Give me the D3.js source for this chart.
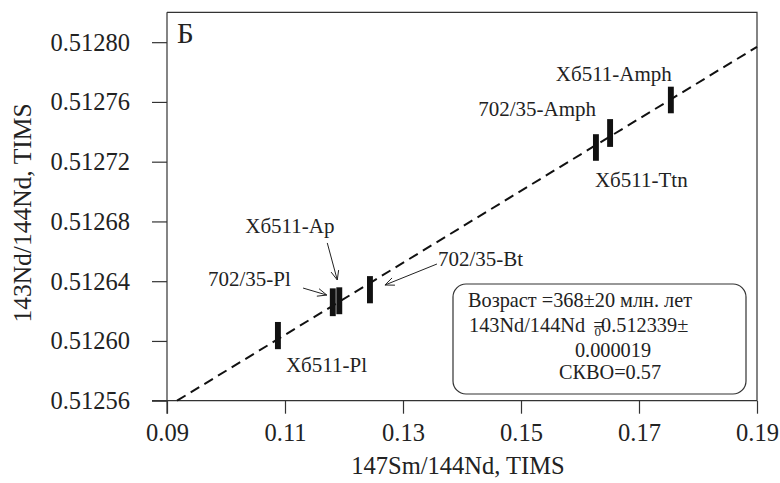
<!DOCTYPE html>
<html>
<head>
<meta charset="utf-8">
<script src="https://cdn.jsdelivr.net/npm/d3@7"></script>
<style>
  html, body { margin: 0; padding: 0; background: #fff; }
  svg { display: block; }
  text { font-family: "Liberation Serif", "Times New Roman", serif; fill: #222; }
</style>
</head>
<body>
<svg id="chart" width="780" height="483"></svg>
<script>
// ---------- data ----------
const samples = ["Xб511-Pl", "702/35-Pl", "Xб511-Ap", "702/35-Bt", "702/35-Amph", "Xб511-Ttn", "Xб511-Amph"];
const smNd    = [0.1088, 0.1181, 0.1192, 0.1244, 0.1651, 0.1627, 0.1754];
const ndNd    = [0.5126036, 0.5126259, 0.5126269, 0.5126343, 0.5127392, 0.5127295, 0.5127613];
const ndErr   = [0.0000091, 0.0000093, 0.0000090, 0.0000091, 0.0000093, 0.0000089, 0.0000089];
const smErr   = [0.0005, 0.0005, 0.0005, 0.0005, 0.0005, 0.0005, 0.0005];
const xTicks  = [0.09, 0.11, 0.13, 0.15, 0.17, 0.19];
const yTicks  = [0.51256, 0.51260, 0.51264, 0.51268, 0.51272, 0.51276, 0.51280];
const isochronIntercept = 0.512339;
const isochronSlope     = 0.002410;   // e^(λt)-1 for 368 Ma
const xDomain = [0.09, 0.19];
const yDomain = [0.51256, 0.51282];
const resultLines = ["Возраст =368±20 млн. лет", "143Nd/144Nd", "0.512339±", "0.000019", "СКВО=0.57"];

// ---------- layout ----------
const L = 167, R = 757, T = 12.3, B = 400.7;
const svg = d3.select("#chart");
const x = d3.scaleLinear().domain(xDomain).range([L, R]);
const y = d3.scaleLinear().domain(yDomain).range([B, T]);
const axisColor = "#333";

// frame top & right
svg.append("path")
  .attr("d", `M${L},${T}H${R}V${B}`)
  .attr("fill", "none").attr("stroke", axisColor).attr("stroke-width", 1.2);

// x axis
const gx = svg.append("g").attr("transform", `translate(0,${B})`)
  .call(d3.axisBottom(x).tickValues(xTicks).tickFormat(d3.format(".2f")).tickSize(13).tickPadding(10));
gx.select(".domain").attr("d", `M${L - 15},0H${R}`).attr("stroke", axisColor).attr("stroke-width", 1.2);
gx.selectAll(".tick line").attr("stroke", axisColor).attr("stroke-width", 1.2);
gx.selectAll(".tick text").attr("font-size", 24.5).attr("font-family", "Liberation Serif").attr("fill", "#222");

// y axis
const gy = svg.append("g").attr("transform", `translate(${L},0)`)
  .call(d3.axisLeft(y).tickValues(yTicks).tickFormat(d3.format(".5f")).tickSize(15).tickPadding(22));
gy.select(".domain").attr("d", `M0,${T}V${B + 13}`).attr("stroke", axisColor).attr("stroke-width", 1.2);
gy.selectAll(".tick line").attr("stroke", axisColor).attr("stroke-width", 1.2);
gy.selectAll(".tick text").attr("font-size", 24.5).attr("font-family", "Liberation Serif").attr("fill", "#222");

// axis titles
svg.append("text").attr("x", (L + R) / 2 - 4).attr("y", 474)
  .attr("text-anchor", "middle").attr("font-size", 24.5).text("147Sm/144Nd, TIMS");
svg.append("text").attr("transform", `translate(31,${213}) rotate(-90)`)
  .attr("text-anchor", "middle").attr("font-size", 25.5).text("143Nd/144Nd, TIMS");

// panel letter
svg.append("text").attr("x", 177).attr("y", 43).attr("font-size", 29).text("Б");

// isochron (dashed)
const x0 = (yDomain[0] - isochronIntercept) / isochronSlope;
const x1 = xDomain[1];
svg.append("line")
  .attr("x1", x(x0)).attr("y1", y(isochronIntercept + isochronSlope * x0))
  .attr("x2", x(x1)).attr("y2", y(isochronIntercept + isochronSlope * x1))
  .attr("stroke", "#111").attr("stroke-width", 2).attr("stroke-dasharray", "10,6");

// error boxes
const pts = samples.map((s, i) => ({ s, x: smNd[i], y: ndNd[i], ex: smErr[i], ey: ndErr[i] }));
svg.append("g").selectAll("rect").data(pts).join("rect")
  .attr("x", d => x(d.x - d.ex)).attr("width", d => x(d.x + d.ex) - x(d.x - d.ex))
  .attr("y", d => y(d.y + d.ey)).attr("height", d => y(d.y - d.ey) - y(d.y + d.ey))
  .attr("fill", "#111");

// labels (pixel offsets from the point) and arrows
const labelLayout = {
  "Xб511-Pl":    { dx: 8,     dy: 36.5,  anchor: "start" },
  "702/35-Pl":   { dx: -42,   dy: -16,   anchor: "end",   arrow: [-29.7, -14.2, -6, -7.2] },
  "Xб511-Ap":    { dx: -94,   dy: -68,   anchor: "start", arrow: [-12, -57.8, -2, -20.8] },
  "702/35-Bt":   { dx: 68,    dy: -24,   anchor: "start", arrow: [67, -25.7, 15, -4.7] },
  "702/35-Amph": { dx: -14,   dy: -17,   anchor: "end" },
  "Xб511-Ttn":   { dx: -1,    dy: 39.5,  anchor: "start" },
  "Xб511-Amph":  { dx: 1,     dy: -19,   anchor: "end" }
};
const lab = svg.append("g");
pts.forEach(d => {
  const o = labelLayout[d.s];
  const px = x(d.x), py = y(d.y);
  lab.append("text").attr("x", px + o.dx).attr("y", py + o.dy)
    .attr("text-anchor", o.anchor).attr("font-size", 21).text(d.s);
  if (o.arrow) {
    const [ax1, ay1, ax2, ay2] = o.arrow;
    const sx = px + ax1, sy = py + ay1, ex = px + ax2, ey = py + ay2;
    lab.append("line").attr("x1", sx).attr("y1", sy).attr("x2", ex).attr("y2", ey)
      .attr("stroke", "#222").attr("stroke-width", 1);
    const ang = Math.atan2(ey - sy, ex - sx), h = 10, w = 0.4;
    lab.append("path")
      .attr("d", `M${ex - h * Math.cos(ang - w)},${ey - h * Math.sin(ang - w)}L${ex},${ey}L${ex - h * Math.cos(ang + w)},${ey - h * Math.sin(ang + w)}`)
      .attr("fill", "none").attr("stroke", "#222").attr("stroke-width", 1);
  }
});

// result box
const box = svg.append("g");
box.append("rect").attr("x", 453).attr("y", 284).attr("width", 293).attr("height", 110)
  .attr("rx", 13).attr("ry", 13).attr("fill", "#fff").attr("stroke", "#333").attr("stroke-width", 1.2);
box.append("text").attr("x", 468).attr("y", 307).attr("font-size", 20.3).text(resultLines[0]);
const l2 = box.append("text").attr("x", 469).attr("y", 332).attr("font-size", 20.3);
l2.append("tspan").text(resultLines[1] + " ");
l2.append("tspan").attr("dx", 3).text("=");
l2.append("tspan").attr("dx", -10).attr("dy", 4).attr("font-size", 13).text("0");
l2.append("tspan").attr("dy", -4).text(resultLines[2]);
box.append("text").attr("x", 613).attr("y", 357).attr("text-anchor", "middle").attr("font-size", 20.3).text(resultLines[3]);
box.append("text").attr("x", 610).attr("y", 379).attr("text-anchor", "middle").attr("font-size", 20.3).text(resultLines[4]);
</script>
</body>
</html>
